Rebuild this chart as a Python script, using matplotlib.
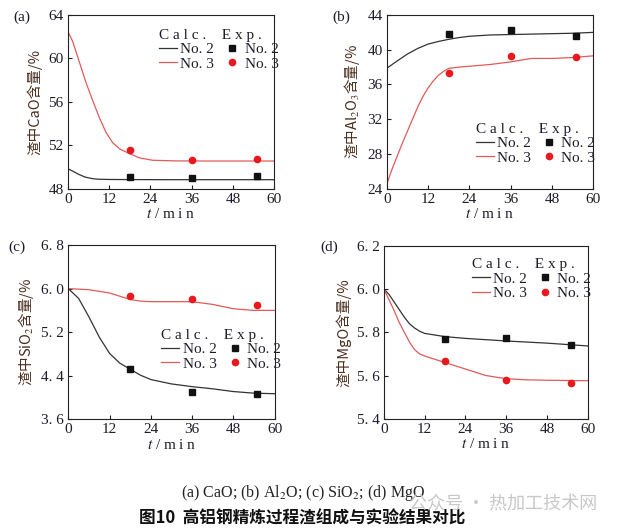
import matplotlib
matplotlib.use('Agg')
import matplotlib.pyplot as plt

plt.rcParams['font.family'] = ['Liberation Serif', 'DejaVu Serif']
plt.rcParams['mathtext.fontset'] = 'stix'

# ---- data ----
exp_t = [18, 36, 55]

# (a) CaO
cao_t2 = [0, 1.5, 3.3, 5, 7.2, 9.1, 12, 18, 30, 45, 60]
cao_calc2 = [49.84, 49.6, 49.3, 49.07, 48.92, 48.87, 48.85, 48.84, 48.83, 48.83, 48.83]
cao_t3 = [0, 1.4, 3.3, 5.2, 7.2, 9.1, 11.1, 13.0, 15.0, 17.4, 20.8, 24.6, 31.4, 40, 50, 60]
cao_calc3 = [62.48, 61.55, 59.69, 57.83, 56.12, 54.57, 53.17, 52.24, 51.68, 51.30, 50.84, 50.62,
             50.56, 50.55, 50.55, 50.55]
cao_exp2 = [49.04, 49.0, 49.14]
cao_exp3 = [51.56, 50.6, 50.75]

# (b) Al2O3
al_t2 = [0, 3, 6, 9, 12, 15, 18, 21, 24, 30, 36, 42, 48, 54, 60]
al_calc2 = [37.86, 38.7, 39.5, 40.15, 40.65, 40.95, 41.2, 41.4, 41.55, 41.7, 41.75, 41.8, 41.85, 41.9, 42.0]
al_t3 = [0, 1.5, 3, 4.5, 6, 7.5, 9, 10.5, 12, 13.5, 15, 16.5, 18, 21, 24, 30, 36, 42, 48, 54, 60]
al_calc3 = [24.5, 26.2, 27.7, 29.2, 30.6, 32.0, 33.4, 34.6, 35.6, 36.4, 37.05, 37.5, 37.86, 38.0,
            38.1, 38.3, 38.6, 39.0, 39.0, 39.1, 39.3]
al_exp2 = [41.85, 42.27, 41.6]
al_exp3 = [37.3, 39.3, 39.2]

# (c) SiO2
si_t2 = [0, 3, 6, 9, 12, 15, 18, 21, 24, 30, 36, 42, 48, 54, 60]
si_calc2 = [6.0, 5.82, 5.48, 5.11, 4.81, 4.63, 4.52, 4.41, 4.33, 4.25, 4.20, 4.16, 4.11, 4.08, 4.07]
si_t3 = [0, 6, 12, 15, 18, 21, 24, 30, 36, 42, 45, 48, 54, 60]
si_calc3 = [6.0, 5.98, 5.92, 5.86, 5.80, 5.77, 5.76, 5.76, 5.76, 5.71, 5.67, 5.63, 5.60, 5.60]
si_exp2 = [4.52, 4.10, 4.06]
si_exp3 = [5.87, 5.81, 5.70]

# (d) MgO
mg_t2 = [0, 1.5, 3, 4.5, 6, 7.5, 9, 10.5, 12, 18, 24, 36, 48, 60]
mg_calc2 = [6.0, 5.975, 5.94, 5.905, 5.87, 5.84, 5.82, 5.805, 5.795, 5.78, 5.772, 5.76, 5.75, 5.737]
mg_t3 = [0, 1.5, 3, 4.5, 6, 7.5, 9, 10.5, 12, 15, 18, 24, 30, 36, 42, 48, 60]
mg_calc3 = [6.0, 5.95, 5.90, 5.845, 5.80, 5.755, 5.72, 5.70, 5.69, 5.675, 5.66, 5.63, 5.60, 5.585,
            5.58, 5.578, 5.576]
mg_exp2 = [5.771, 5.776, 5.74]
mg_exp3 = [5.667, 5.579, 5.567]

xticks = [0, 12, 24, 36, 48, 60]

BLACK = '#333333'
RED_LINE = '#e05a5a'
RED_PT = '#e8191e'
TXT = '#1c1c2a'
YLAB = '#4a2e1e'
CJK = ['Noto Sans CJK SC', 'DejaVu Sans']

fig = plt.figure(figsize=(6.29, 5.32), dpi=100)

panels = [
    dict(rect=[0.108, 0.6453, 0.328, 0.3265], ylim=(48, 64), yticks=[48, 52, 56, 60, 64],
         yfmt='{:d}', t2=cao_t2, c2=cao_calc2, t3=cao_t3, c3=cao_calc3, e2=cao_exp2, e3=cao_exp3,
         ylabel='渣中CaO含量/%', tag='(a)', tagpos=(0.021, 0.968), leg=(0.44, 0.92)),
    dict(rect=[0.6148, 0.6453, 0.3285, 0.3265], ylim=(24, 44), yticks=[24, 28, 32, 36, 40, 44],
         yfmt='{:d}', t2=al_t2, c2=al_calc2, t3=al_t3, c3=al_calc3, e2=al_exp2, e3=al_exp3,
         ylabel='渣中Al$_2$O$_3$含量/%', tag='(b)', tagpos=(0.528, 0.968), leg=(0.43, 0.38)),
    dict(rect=[0.1086, 0.2118, 0.328, 0.3276], ylim=(3.6, 6.8), yticks=[3.6, 4.4, 5.2, 6.0, 6.8],
         yfmt='{:.1f}', t2=si_t2, c2=si_calc2, t3=si_t3, c3=si_calc3, e2=si_exp2, e3=si_exp3,
         ylabel='渣中SiO$_2$含量/%', tag='(c)', tagpos=(0.013, 0.536), leg=(0.45, 0.52)),
    dict(rect=[0.6105, 0.213, 0.3238, 0.3246], ylim=(5.4, 6.2), yticks=[5.4, 5.6, 5.8, 6.0, 6.2],
         yfmt='{:.1f}', t2=mg_t2, c2=mg_calc2, t3=mg_t3, c3=mg_calc3, e2=mg_exp2, e3=mg_exp3,
         ylabel='渣中MgO含量/%', tag='(d)', tagpos=(0.509, 0.536), leg=(0.43, 0.93)),
]

for p in panels:
    ax = fig.add_axes(p['rect'])
    l2, = ax.plot(p['t2'], p['c2'], color=BLACK, lw=0.9)
    l3, = ax.plot(p['t3'], p['c3'], color=RED_LINE, lw=0.9)
    m2, = ax.plot(exp_t, p['e2'], 's', color='#111111', ms=5, ls='none')
    m3, = ax.plot(exp_t, p['e3'], 'o', color=RED_PT, ms=4.5, ls='none')
    ax.set_xlim(0, 60)
    ax.set_ylim(*p['ylim'])
    ax.set_xticks(xticks)
    ax.set_yticks(p['yticks'])
    ax.set_yticklabels([p['yfmt'].format(v).replace('.', '. ') for v in p['yticks']])
    ax.tick_params(direction='in', length=3, width=0.8, labelsize=11, colors=TXT, pad=3)
    for s in ax.spines.values():
        s.set_linewidth(0.8)
        s.set_color('#222222')
    ax.set_xlabel('$t$ / m i n', fontsize=11, color=TXT, labelpad=1)
    ax.set_ylabel(p['ylabel'], family=CJK, fontsize=10.5, color=YLAB, labelpad=4)
    fig.text(p['tagpos'][0], p['tagpos'][1], p['tag'], fontsize=11, color=TXT,
             va='center', ha='left')
    leg = ax.legend([l2, l3, m2, m3], ['No. 2', 'No. 3', 'No. 2', 'No. 3'], ncol=2,
                    title='C a l c .    E x p .', alignment='left', loc='upper left',
                    bbox_to_anchor=p['leg'], frameon=False, fontsize=11, title_fontsize=11,
                    handlelength=1.2, handletextpad=0.2, columnspacing=0.6, labelspacing=0.05,
                    borderpad=0, borderaxespad=0)
    for t in leg.get_texts():
        t.set_color(TXT)
    leg.get_title().set_color(TXT)

fig.text(0.482, 0.073, '(a) CaO; (b) Al$_2$O; (c) SiO$_2$; (d) MgO', ha='center', va='center',
         fontsize=11.5, color='#222222')
fig.text(0.48, 0.026, '图10  高铝钢精炼过程渣组成与实验结果对比', ha='center', va='center',
         fontsize=12, weight='bold', family=CJK, color='#111111')
fig.text(0.80, 0.052, '公众号 · 热加工技术网', ha='center', va='center', fontsize=13,
         family=CJK, color='#c8c8c8')

fig.savefig('out.png', dpi=100)
